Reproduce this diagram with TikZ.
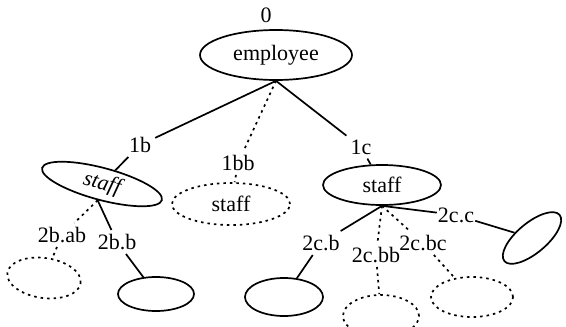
\documentclass[tikz,border=0pt]{standalone}
\usepackage{fontspec}
\setmainfont{Liberation Serif}
\usetikzlibrary{shapes.geometric}
\begin{document}
\begin{tikzpicture}[x=1pt,y=1pt,
  every node/.style={font=\fontsize{22}{26}\selectfont},
  ell/.style={draw,ellipse,line width=1.7pt,inner sep=0pt},
  dell/.style={ell,dash pattern=on 2.5pt off 4pt},
  lab/.style={inner sep=4pt},
  edge/.style={line width=1.7pt},
  dedge/.style={line width=1.7pt,dash pattern=on 2.5pt off 4pt}]
\useasboundingbox (0,0) rectangle (566,-327);
\node (zero) at (266,-15) {0};
\node[ell,minimum width=152pt,minimum height=50pt] (emp) at (276,-55) {employee};
\node[lab] (l1b) at (140,-145) {1b};
\node[lab] (l1bb) at (238,-163) {1bb};
\node[lab] (l1c) at (361,-147) {1c};
\node[ell,rotate=-15,minimum width=124pt,minimum height=32pt] (stL) at (102,-184) {\itshape staff};
\node[dell,minimum width=118pt,minimum height=42pt] (stM) at (231,-204) {staff};
\node[ell,minimum width=118pt,minimum height=40pt] (stR) at (382,-185) {staff};
\node[lab] (l2bab) at (62,-235) {2b.ab};
\node[lab] (l2bb) at (117,-242) {2b.b};
\node[dell,rotate=-8,minimum width=74pt,minimum height=40pt] (eA) at (44,-278) {};
\node[ell,minimum width=76pt,minimum height=34pt] (eB) at (156,-294) {};
\node[lab] (l2cb) at (321,-243) {2c.b};
\node[lab] (l2cbb) at (376,-255) {2c.bb};
\node[lab] (l2cbc) at (423,-243) {2c.bc};
\node[lab,inner sep=1pt] (l2cc) at (456,-215) {2c.c};
\node[ell,minimum width=78pt,minimum height=38pt] (eC) at (284,-297) {};
\node[dell,minimum width=76pt,minimum height=42pt] (eD) at (381,-316) {};
\node[dell,minimum width=82pt,minimum height=40pt] (eE) at (472,-297) {};
\node[ell,rotate=40,minimum width=72pt,minimum height=30pt] (eF) at (532,-238) {};
\draw[edge] (emp.south) -- (l1b) -- (stL);
\draw[dedge] (emp.south) -- (l1bb) -- (stM);
\draw[edge] (emp.south) -- (l1c) -- (stR);
\draw[dedge] (stL.south) -- (l2bab) -- (eA);
\draw[edge] (stL.south) -- (l2bb) -- (eB);
\draw[edge] (stR.south) -- (l2cb) -- (eC);
\draw[dedge] (stR.south) -- (l2cbb) -- (eD);
\draw[dedge] (stR.south) -- (l2cbc) -- (eE);
\draw[edge] (stR.south) -- (l2cc) -- (eF);
\end{tikzpicture}
\end{document}
